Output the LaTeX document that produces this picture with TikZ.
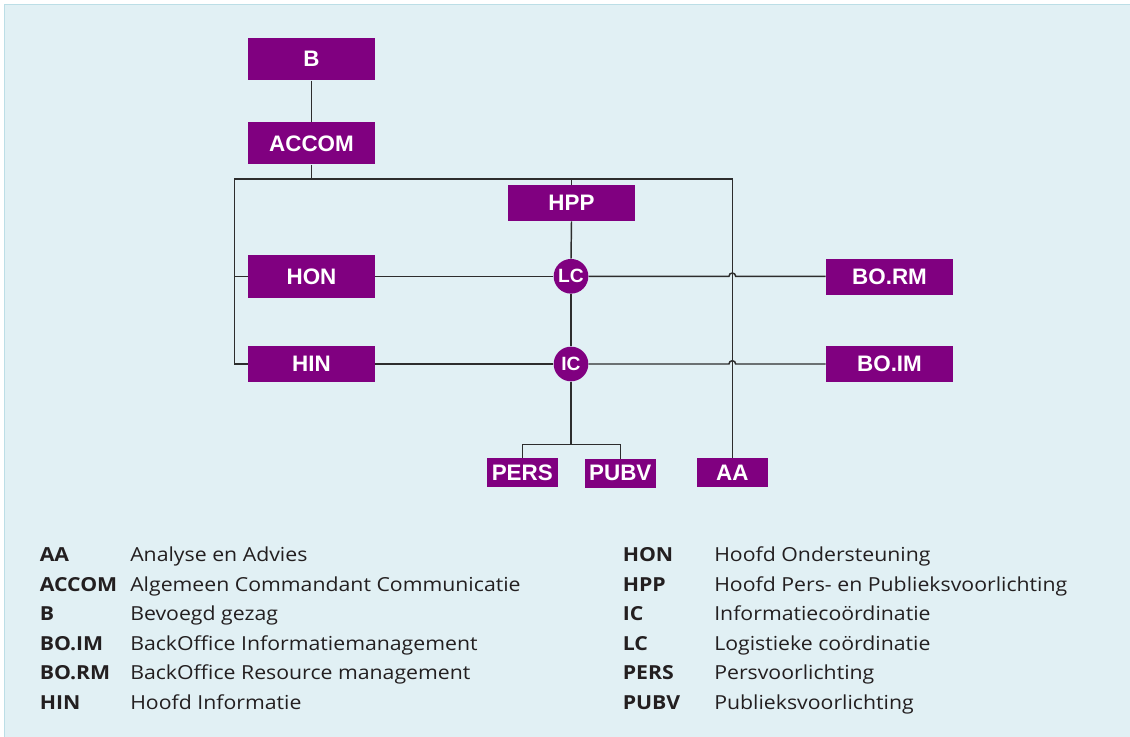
\documentclass[tikz,border=0pt]{standalone}
\usepackage{fontspec}
\setmainfont{Open Sans}[FakeStretch=1.1]
\newfontfamily\boxfont{Liberation Sans}
\definecolor{bg}{RGB}{225,240,244}
\definecolor{bgline}{RGB}{188,222,230}
\definecolor{pur}{RGB}{128,0,128}
\definecolor{ln}{RGB}{45,45,45}
\definecolor{txt}{RGB}{35,31,32}
\begin{document}
\begin{tikzpicture}[x=0.75pt,y=-0.75pt,
  box/.style={fill=pur,text=white,font=\boxfont\bfseries\fontsize{16.8}{18}\selectfont,inner sep=0pt,minimum width=95.25pt},
  sbox/.style={fill=pur,text=white,font=\boxfont\bfseries\fontsize{16.8}{18}\selectfont,inner sep=0pt,minimum width=53pt,minimum height=21.5pt},
  circ/.style={circle,fill=pur,text=white,font=\boxfont\bfseries\fontsize{14.4}{16}\selectfont,inner sep=0pt,minimum size=26pt},
  conn/.style={draw=ln,line width=1.1pt},
  abbr/.style={anchor=base west,font=\bfseries\fontsize{14.5}{16}\selectfont,text=txt,inner sep=0pt},
  desc/.style={anchor=base west,font=\fontsize{14.5}{16}\selectfont,text=txt,inner sep=0pt}]
\useasboundingbox (0,0) rectangle (1130,737);
\fill[white] (0,0) rectangle (1130,737);
\fill[bg] (4.5,4.5) rectangle (1130,737);
\draw[bgline,line width=1pt] (4.5,737) -- (4.5,4.5) -- (1130,4.5);

% nodes
\node[box,minimum height=31.5pt] (B) at (311.5,59.3) {B};
\node[box,minimum height=31.5pt] (ACCOM) at (311.5,143.3) {ACCOM};
\node[box,minimum height=27pt] (HPP) at (571.5,203) {HPP};
\node[box,minimum height=32pt] (HON) at (311.5,276.3) {HON};
\node[box,minimum height=27pt] (HIN) at (311.5,364) {HIN};
\node[circ] (LC) at (571,276.3) {LC};
\node[circ] (IC) at (571,364) {IC};
\node[box,minimum height=27pt] (BORM) at (889.5,276.8) {BO.RM};
\node[box,minimum height=27pt] (BOIM) at (889.5,364) {BO.IM};
\node[sbox] (PERS) at (522.3,472.3) {PERS};
\node[sbox] (PUBV) at (620.3,473.3) {PUBV};
\node[sbox] (AA) at (732.3,472.3) {AA};

\coordinate (tl) at (234.5,179);
\coordinate (br) at (571,444.7);

% connectors
\draw[conn] (B.south) -- (ACCOM.north);
\draw[conn] (ACCOM.south) -- (ACCOM.south |- tl);
\draw[conn] (HIN.west) -| (tl) -- (AA.north |- tl) -- (AA.north);
\draw[conn] (tl |- HON.west) -- (HON.west);
\draw[conn] (HPP.north |- tl) -- (HPP.north);
\draw[conn] (HPP.south) -- (LC.north);
\draw[conn] (LC.south) -- (IC.north);
\draw[conn] (HON.east) -- (LC.west);
\draw[conn] (HIN.east) -- (IC.west);
\draw[conn] (IC.south) -- (br);
\draw[conn] (PERS.north) |- (br) -| (PUBV.north);
\draw[conn] (LC.east) -- ([xshift=-2.5pt]LC.east -| AA.north) arc[start angle=180,end angle=0,radius=2.5pt] -- (LC.east -| BORM.west);
\draw[conn] (IC.east) -- ([xshift=-2.5pt]IC.east -| AA.north) arc[start angle=180,end angle=0,radius=2.5pt] -- (IC.east -| BOIM.west);

% legend
\foreach \i/\y/\a/\d in {1/561.7/AA/Analyse en Advies,
  2/591.2/ACCOM/Algemeen Commandant Communicatie,
  3/620.7/B/Bevoegd gezag,
  4/650.2/BO.IM/BackOffice Informatiemanagement,
  5/679.7/BO.RM/BackOffice Resource management,
  6/709.2/HIN/Hoofd Informatie}{
  \node[abbr] (la\i) at (39.5,\y) {\a};
  \node[desc] (ld\i) at (130,\y) {\d};
}
\foreach \i/\y/\a/\d in {1/561.7/HON/Hoofd Ondersteuning,
  2/591.2/HPP/Hoofd Pers- en Publieksvoorlichting,
  3/620.7/IC/Informatiecoördinatie,
  4/650.2/LC/Logistieke coördinatie,
  5/679.7/PERS/Persvoorlichting,
  6/709.2/PUBV/Publieksvoorlichting}{
  \node[abbr] (ra\i) at (622.5,\y) {\a};
  \node[desc] (rd\i) at (714,\y) {\d};
}
\end{tikzpicture}
\end{document}
